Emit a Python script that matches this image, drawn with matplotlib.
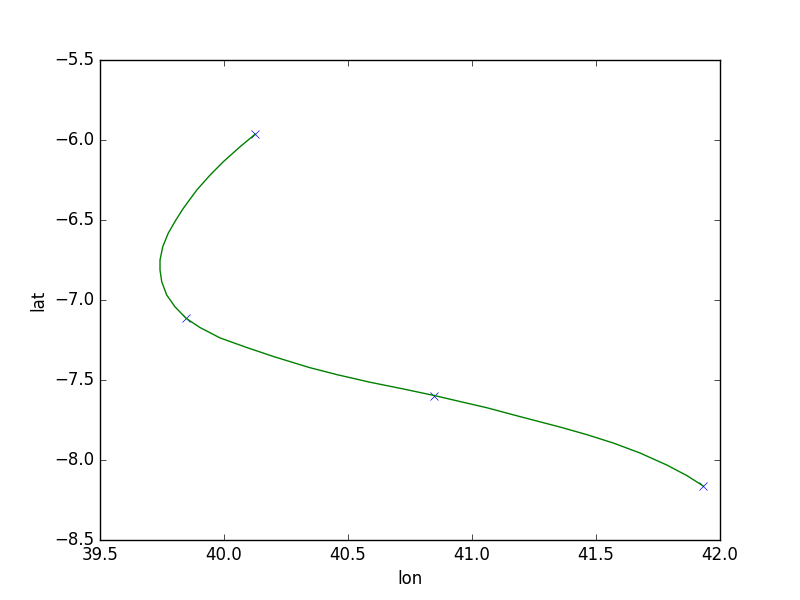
import matplotlib
matplotlib.use('Agg')
import matplotlib.pyplot as plt

# control points (blue crosses)
pt_lon = [40.126, 39.847, 40.848, 41.931]
pt_lat = [-5.963, -7.114, -7.597, -8.161]

# smooth track (green line)
track_lon = [40.126, 40.065, 39.997, 39.944, 39.890, 39.836, 39.806, 39.775,
             39.753, 39.742, 39.742, 39.749, 39.769, 39.802, 39.847, 39.903,
             39.984, 40.092, 40.199, 40.344, 40.454, 40.589, 40.723, 40.848,
             40.925, 41.059, 41.194, 41.355, 41.462, 41.570, 41.677, 41.785,
             41.866, 41.931]
track_lat = [-5.963, -6.042, -6.136, -6.219, -6.313, -6.427, -6.500, -6.583,
             -6.667, -6.750, -6.813, -6.886, -6.969, -7.042, -7.114, -7.172,
             -7.237, -7.297, -7.353, -7.422, -7.466, -7.514, -7.556, -7.597,
             -7.625, -7.673, -7.729, -7.794, -7.841, -7.894, -7.956, -8.031,
             -8.097, -8.161]

plt.style.use('classic')
plt.figure(figsize=(8, 6), dpi=100)
plt.plot(pt_lon, pt_lat, 'x', color='b', markersize=6)
plt.plot(track_lon, track_lat, '-', color='g', linewidth=1,
         solid_joinstyle='round')
plt.xlim(39.5, 42.0)
plt.ylim(-8.5, -5.5)
plt.xlabel('lon')
plt.ylabel('lat')
plt.subplots_adjust(left=0.125, right=0.9, top=0.9, bottom=0.1)
plt.savefig('out.png', dpi=100)
